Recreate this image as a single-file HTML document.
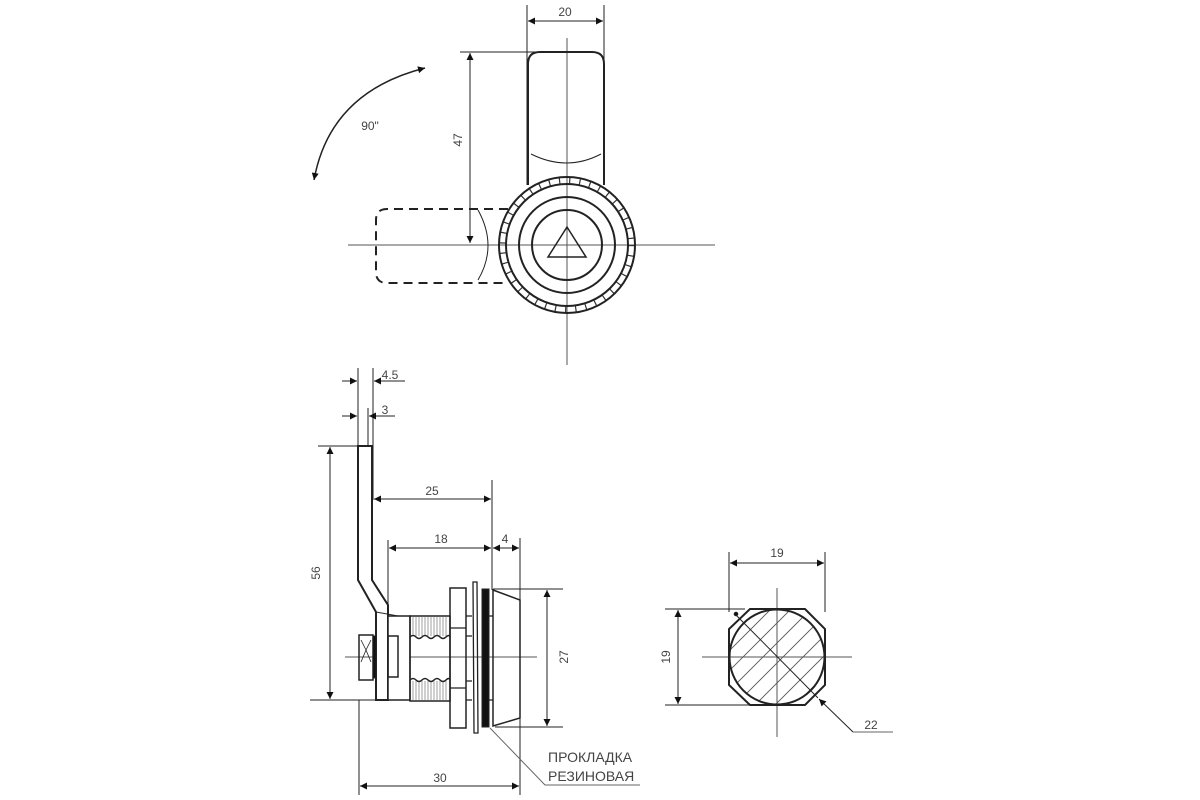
<!DOCTYPE html>
<html><head><meta charset="utf-8"><style>html,body{margin:0;padding:0;background:#fff}svg{display:block}text{font-family:"Liberation Sans",sans-serif;fill:#444}</style></head>
<body>
<svg width="1200" height="800" viewBox="0 0 1200 800" xmlns="http://www.w3.org/2000/svg">
<defs>
<marker id="a" viewBox="0 0 10 10" refX="10" refY="5" markerWidth="9" markerHeight="7" orient="auto-start-reverse" markerUnits="userSpaceOnUse"><path d="M0,0L10,5L0,10z" fill="#111"/></marker>
</defs>
<g fill="none" stroke="#222" stroke-width="1">
<!-- TOP VIEW -->
<line x1="348" y1="245" x2="715" y2="245" stroke="#555"/>
<line x1="567" y1="38" x2="567" y2="365" stroke="#555"/>
<line x1="527" y1="5" x2="527" y2="185"/>
<line x1="604" y1="5" x2="604" y2="185"/>
<line x1="528" y1="21" x2="603" y2="21" marker-start="url(#a)" marker-end="url(#a)"/>
<line x1="460" y1="52" x2="545" y2="52"/>
<line x1="470" y1="53" x2="470" y2="243" marker-start="url(#a)" marker-end="url(#a)"/>
<path d="M528,185 V64 Q528,52 540,52 H592 Q604,52 604,64 V185" stroke-width="2"/>
<path d="M531,154 Q567,172 601,154"/>
<path d="M508,209 H387 Q376,209 376,220 V272 Q376,283 387,283 H508" stroke-width="2" stroke-dasharray="9,6"/>
<path d="M478,210 Q498,246 478,280"/>
<circle cx="567" cy="245" r="64.5" stroke-width="7" stroke="#333" stroke-dasharray="1.2,9"/>
<circle cx="567" cy="245" r="68" stroke-width="2"/>
<circle cx="567" cy="245" r="61" stroke-width="2"/>
<circle cx="567" cy="245" r="48" stroke-width="2"/>
<circle cx="567" cy="245" r="35" stroke-width="2"/>
<path d="M567,227 L586,257 H548 Z" stroke-width="1.5"/>
<path d="M314,180 Q330,92 425,68" stroke-width="1.5" marker-start="url(#a)" marker-end="url(#a)"/>
<!-- SIDE VIEW -->
<line x1="345" y1="657" x2="537" y2="657" stroke="#555"/>
<line x1="358" y1="368" x2="358" y2="446"/>
<line x1="373" y1="368" x2="373" y2="500"/>
<line x1="368" y1="408" x2="368" y2="446"/>
<line x1="342" y1="381" x2="357" y2="381" marker-end="url(#a)"/>
<line x1="405" y1="381" x2="374" y2="381" marker-end="url(#a)"/>
<line x1="342" y1="416" x2="357" y2="416" marker-end="url(#a)"/>
<line x1="395" y1="416" x2="369" y2="416" marker-end="url(#a)"/>
<line x1="318" y1="446" x2="372" y2="446"/>
<line x1="310" y1="700" x2="388" y2="700"/>
<line x1="330" y1="447" x2="330" y2="699" marker-start="url(#a)" marker-end="url(#a)"/>
<line x1="492" y1="480" x2="492" y2="590"/>
<line x1="374" y1="499" x2="491" y2="499" marker-start="url(#a)" marker-end="url(#a)"/>
<line x1="388" y1="540" x2="388" y2="616"/>
<line x1="389" y1="548" x2="491" y2="548" marker-start="url(#a)" marker-end="url(#a)"/>
<line x1="493" y1="548" x2="519" y2="548" marker-start="url(#a)" marker-end="url(#a)"/>
<line x1="520" y1="538" x2="520" y2="795"/>
<line x1="359" y1="700" x2="359" y2="795"/>
<line x1="360" y1="786" x2="519" y2="786" marker-start="url(#a)" marker-end="url(#a)"/>
<line x1="493" y1="589" x2="563" y2="589"/>
<line x1="495" y1="727" x2="563" y2="727"/>
<line x1="547" y1="590" x2="547" y2="726" marker-start="url(#a)" marker-end="url(#a)"/>
<path d="M358,446 H372 V580 L388,605 V700 H376 V612 L358,580 Z" stroke-width="2" fill="#fff"/>
<rect x="359" y="635" width="14" height="45" stroke-width="1.5"/>
<path d="M361,640 L366,650 L361,662 M371,640 L366,650 L371,662" stroke-width="0.8"/>
<rect x="373" y="636" width="3" height="42" fill="#111"/>
<rect x="388" y="616" width="22" height="84" stroke-width="1.5" fill="#fff"/>
<path d="M376,612 L398,616" />
<rect x="388" y="636" width="10" height="41" stroke-width="1.5"/>
<rect x="410" y="616" width="40" height="85" stroke-width="1.5"/>
<g stroke="#888" stroke-width="0.8">
<path d="M413,617V636M416,617V636M419,617V636M422,617V636M425,617V636M428,617V636M431,617V636M434,617V636M437,617V636M440,617V636M443,617V636M446,617V636"/>
<path d="M413,681V700M416,681V700M419,681V700M422,681V700M425,681V700M428,681V700M431,681V700M434,681V700M437,681V700M440,681V700M443,681V700M446,681V700"/>
</g>
<path d="M410,637 q3,-3 6,0 t6,0 t6,0 t6,0 t6,0 t6,0 t4,0 M410,680 q3,-3 6,0 t6,0 t6,0 t6,0 t6,0 t6,0 t4,0" stroke-width="1.5"/>
<rect x="450" y="588" width="16" height="140" stroke-width="1.5"/>
<path d="M450,628H466M450,688H466M466,616H472M466,700H472M489,616H493M489,700H493M466,636H472M466,681H472" stroke-width="1.2"/>
<path d="M473,582 L477,582 L478,733 L474,733 Z" stroke-width="1.3"/>
<rect x="482" y="589" width="7" height="138" fill="#111"/>
<path d="M493,590 L520,600 V718 L493,726 Z" stroke-width="1.5"/>
<path d="M490,728 L545,785 H640" stroke="#666"/>
<!-- SECTION -->
<line x1="702" y1="657" x2="852" y2="657" stroke="#555"/>
<line x1="777" y1="588" x2="777" y2="737" stroke="#555"/>
<line x1="729" y1="552" x2="729" y2="612"/>
<line x1="825" y1="552" x2="825" y2="612"/>
<line x1="730" y1="563" x2="824" y2="563" marker-start="url(#a)" marker-end="url(#a)"/>
<line x1="665" y1="609" x2="745" y2="609"/>
<line x1="665" y1="705" x2="755" y2="705"/>
<line x1="678" y1="610" x2="678" y2="704" marker-start="url(#a)" marker-end="url(#a)"/>
<clipPath id="c"><circle cx="777" cy="657" r="47.5"/></clipPath>
<g clip-path="url(#c)" stroke="#555" stroke-width="0.9">
<path d="M700,680L800,580M700,700L820,580M700,720L840,580M700,740L860,580M700,760L860,600M720,760L860,620M740,760L860,640M760,760L860,660M700,660L780,580M700,640L760,580M700,620L740,580"/>
</g>
<circle cx="777" cy="657" r="47.5" stroke-width="2"/>
<path d="M750,609 H805 L825,629 V685 L805,705 H750 L729,685 V629 Z" stroke-width="2"/>
<line x1="735" y1="614" x2="818" y2="698"/>
<circle cx="736" cy="614" r="1.8" fill="#111"/>
<path d="M853,732 L819,699" marker-end="url(#a)"/>
<line x1="853" y1="732" x2="893" y2="732" stroke="#666"/>
</g>
<text x="565" y="16" font-size="12" text-anchor="middle">20</text>
<text x="370" y="130" font-size="12" text-anchor="middle">90"</text>
<text transform="translate(462,140) rotate(-90)" font-size="12" text-anchor="middle">47</text>
<text x="390" y="379" font-size="12" text-anchor="middle">4.5</text>
<text x="385" y="414" font-size="12" text-anchor="middle">3</text>
<text transform="translate(320,573) rotate(-90)" font-size="12" text-anchor="middle">56</text>
<text x="432" y="495" font-size="12" text-anchor="middle">25</text>
<text x="441" y="543" font-size="12" text-anchor="middle">18</text>
<text x="505" y="543" font-size="12" text-anchor="middle">4</text>
<text transform="translate(568,657) rotate(-90)" font-size="12" text-anchor="middle">27</text>
<text x="440" y="782" font-size="12" text-anchor="middle">30</text>
<text x="548" y="762" font-size="14">ПРОКЛАДКА</text>
<text x="548" y="781" font-size="14">РЕЗИНОВАЯ</text>
<text x="777" y="557" font-size="12" text-anchor="middle">19</text>
<text transform="translate(670,657) rotate(-90)" font-size="12" text-anchor="middle">19</text>
<text x="871" y="729" font-size="12" text-anchor="middle">22</text>
</svg>
</body></html>
